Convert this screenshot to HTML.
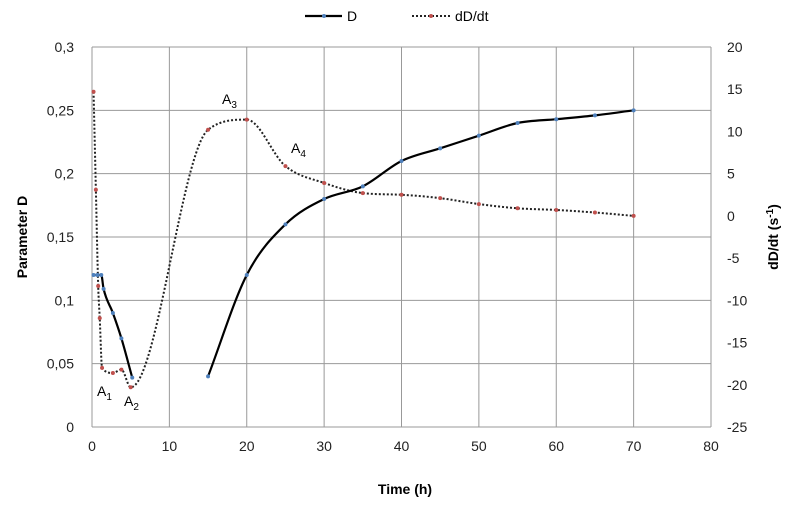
<!DOCTYPE html>
<html><head><meta charset="utf-8"><style>
body{margin:0;background:#fff}
svg{display:block;font-family:"Liberation Sans",sans-serif}
</style></head><body>
<svg id="c" width="788" height="506"></svg>
<script>
const xTicks=[0,10,20,30,40,50,60,70,80];
const yLeftTicks=[0,0.05,0.1,0.15,0.2,0.25,0.3];
const yLeftLabels=["0","0,05","0,1","0,15","0,2","0,25","0,3"];
const yRightTicks=[-25,-20,-15,-10,-5,0,5,10,15,20];
const dTime=[0.2,0.7,1.2,1.5,2.7,3.8,5.2,15,20,25,30,35,40,45,50,55,60,65,70];
const dValues=[0.12,0.12,0.12,0.109,0.09,0.07,0.039,0.04,0.12,0.16,0.18,0.19,0.21,0.22,0.23,0.24,0.243,0.246,0.25];
const rTime=[0.2,0.5,0.8,1.0,1.3,2.7,3.8,5.0,15,20,25,30,35,40,45,50,55,60,65,70];
const rValues=[14.7,3.1,-8.3,-12.1,-18,-18.6,-18.2,-20.3,10.2,11.4,5.9,3.9,2.7,2.5,2.1,1.4,0.9,0.7,0.4,0.0];
const X0=92,X1=711,Y0=427,Y1=47;
const sx=t=>X0+(t/80)*(X1-X0);
const syL=v=>Y0-(v/0.3)*(Y0-Y1);
const syR=v=>Y0-((v+25)/45)*(Y0-Y1);
const svg=document.getElementById('c');const NS='http://www.w3.org/2000/svg';
function mk(tag,attrs,text){const e=document.createElementNS(NS,tag);for(const k in attrs)e.setAttribute(k,attrs[k]);if(text!==undefined)e.textContent=text;svg.appendChild(e);return e;}
xTicks.forEach(t=>{const l=mk('line',{x1:sx(t),x2:sx(t),y1:Y1,y2:Y0,stroke:'#999'});


const tx=mk('text',{x:sx(t),y:Y0+24,'text-anchor':'middle','font-size':14,fill:'#222'},String(t));

});
yLeftTicks.forEach((v,i)=>{const l=mk('line',{x1:X0,x2:X1,y1:syL(v),y2:syL(v),stroke:'#999'});


const tx=mk('text',{x:X0-18,y:syL(v)+5,'text-anchor':'end','font-size':14,fill:'#222'},yLeftLabels[i]);

});
yRightTicks.forEach(v=>{const tx=mk('text',{x:X1+16,y:syR(v)+5,'text-anchor':'start','font-size':14,fill:'#222'},String(v));

});
// monotone cubic path
function path(xs,ys){const n=xs.length;if(n<2)return '';
const h=[],m=[];for(let i=0;i<n-1;i++){h.push(xs[i+1]-xs[i]);m.push((ys[i+1]-ys[i])/(xs[i+1]-xs[i]||1e-6));}
const tg=[m[0]];for(let i=1;i<n-1;i++){tg.push(m[i-1]*m[i]<=0?0:(m[i-1]+m[i])/2);}tg.push(m[n-2]);
for(let i=0;i<n-1;i++){if(m[i]===0){tg[i]=0;tg[i+1]=0;continue;}const a=tg[i]/m[i],b=tg[i+1]/m[i],s=a*a+b*b;if(s>9){const t=3/Math.sqrt(s);tg[i]=t*a*m[i];tg[i+1]=t*b*m[i];}}
let d='M'+xs[0]+','+ys[0];
for(let i=0;i<n-1;i++){const dx=h[i]/3;d+=' C'+(xs[i]+dx)+','+(ys[i]+tg[i]*dx)+' '+(xs[i+1]-dx)+','+(ys[i+1]-tg[i+1]*dx)+' '+xs[i+1]+','+ys[i+1];}return d;}
const dp=mk('path',{d:path(rTime.map(sx),rValues.map(syR)),fill:'none',stroke:'#222','stroke-width':2,'stroke-dasharray':'2,2'});


// D series drawn in segments (break at large time gaps)
let seg=[[]];dTime.forEach((t,i)=>{if(i>0&&t-dTime[i-1]>5)seg.push([]);seg[seg.length-1].push(i);});
seg.forEach(s=>{const lp=mk('path',{d:path(s.map(i=>sx(dTime[i])),s.map(i=>syL(dValues[i]))),fill:'none',stroke:'#000','stroke-width':2.2});

});
rTime.forEach((t,i)=>{const c=mk('circle',{cx:sx(t),cy:syR(rValues[i]),r:2,fill:'#c0504d'});

});
dTime.forEach((t,i)=>{const c=mk('circle',{cx:sx(t),cy:syL(dValues[i]),r:2,fill:'#4f81bd'});

});
</script>
<div style="position:absolute;left:0;top:0;width:788px;height:506px;pointer-events:none">
<svg width="788" height="506" style="position:absolute;left:0;top:0;font-family:'Liberation Sans',sans-serif">
<g>
<line x1="305" y1="16" x2="342" y2="16" stroke="#000" stroke-width="2.2"/><circle cx="324" cy="16" r="2" fill="#4f81bd"/>
<text x="347" y="21" font-size="14">D</text>
<line x1="412" y1="16" x2="450" y2="16" stroke="#222" stroke-width="2" stroke-dasharray="2,2"/><circle cx="431" cy="16" r="2" fill="#c0504d"/>
<text x="455" y="21" font-size="14">dD/dt</text>
</g>
<text x="97" y="396" font-size="14">A<tspan font-size="10" dy="4">1</tspan></text>
<text x="124" y="406" font-size="14">A<tspan font-size="10" dy="4">2</tspan></text>
<text x="222" y="104" font-size="14">A<tspan font-size="10" dy="4">3</tspan></text>
<text x="291" y="153" font-size="14">A<tspan font-size="10" dy="4">4</tspan></text>
<text x="405" y="494" font-size="14" font-weight="bold" text-anchor="middle">Time (h)</text>
<text transform="translate(27,237) rotate(-90)" font-size="14" font-weight="bold" text-anchor="middle">Parameter D</text>
<text transform="translate(778,237) rotate(-90)" font-size="14" font-weight="bold" text-anchor="middle">dD/dt (s<tspan font-size="10" dy="-5">-1</tspan><tspan dy="5">)</tspan></text>
</svg></div>
</body></html>
